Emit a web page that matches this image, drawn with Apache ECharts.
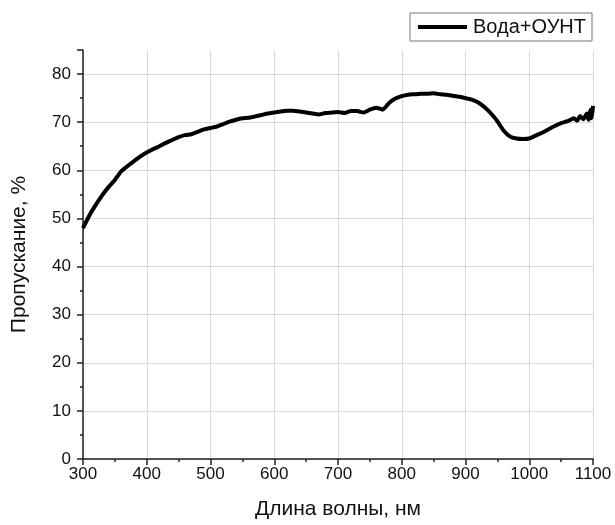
<!DOCTYPE html>
<html><head><meta charset="utf-8">
<script src="https://cdn.jsdelivr.net/npm/echarts@6/dist/echarts.min.js"></script>
<style>html,body{margin:0;padding:0;background:#fff}#c{width:615px;height:525px}</style>
</head><body><div id="c"></div>
<script>
const seriesName = 'Вода+ОУНТ';
const xTitle = 'Длина волны, нм';
const yTitle = 'Пропускание, %';
const wavelength = [300,310,320,330,340,350,360,370,380,390,400,410,420,430,440,450,460,470,480,490,500,510,520,530,540,550,560,570,580,590,600,610,620,630,640,650,660,670,680,690,700,710,720,730,740,750,760,770,775,780,790,800,810,820,830,840,850,860,870,880,890,900,910,920,930,940,950,960,970,980,990,1000,1010,1020,1030,1040,1050,1060,1070,1075,1080,1085,1090,1093,1096,1098,1100];
const transmission = [48.0,50.6,52.8,54.8,56.5,58.0,59.8,60.9,61.9,62.9,63.7,64.4,65.0,65.7,66.3,66.9,67.3,67.5,68.0,68.5,68.8,69.1,69.6,70.1,70.5,70.8,70.9,71.2,71.5,71.8,72.0,72.2,72.4,72.4,72.2,72.0,71.8,71.6,71.9,72.0,72.1,71.9,72.3,72.3,72.0,72.6,73.0,72.6,73.2,74.0,74.9,75.4,75.7,75.8,75.9,75.9,76.0,75.8,75.7,75.5,75.3,75.0,74.7,74.1,73.1,71.8,70.2,68.2,67.0,66.6,66.5,66.6,67.2,67.8,68.5,69.2,69.8,70.2,70.8,70.3,71.3,70.6,71.8,70.5,72.6,70.8,73.4];
const data = wavelength.map((w,i)=>[w, transmission[i]]);
const font = 'Liberation Sans, Arial, sans-serif';
const chart = echarts.init(document.getElementById('c'), null, {renderer:'canvas'});
chart.setOption({
  animation:false,
  backgroundColor:'#fff',
  grid:{left:83,right:22,top:50,bottom:63,containLabel:false},
  legend:{
    right:23, top:13, padding:[4,6,4,8],
    borderColor:'#777', borderWidth:1,
    icon:'rect', itemWidth:49, itemHeight:4, itemGap:0,
    textStyle:{fontFamily:font,fontSize:20,color:'#111',padding:[0,0,0,1]},
    data:[seriesName]
  },
  xAxis:{
    type:'value', min:300, max:1100, interval:100,
    name:xTitle, nameLocation:'middle', nameGap:40,
    nameTextStyle:{fontFamily:font,fontSize:21,color:'#111'},
    axisLine:{show:true,onZero:false,lineStyle:{color:'#222',width:1.5}},
    axisTick:{show:true,inside:false,length:6,lineStyle:{color:'#222',width:1.5}},
    minorTick:{show:true,splitNumber:2,length:3,lineStyle:{color:'#222',width:1.5}},
    axisLabel:{fontFamily:font,fontSize:17,color:'#111',margin:7,formatter:v=>String(v)},
    splitLine:{show:true,lineStyle:{color:'#d9d9d9',width:1}}
  },
  yAxis:{
    type:'value', min:0, max:85, interval:10,
    name:yTitle, nameLocation:'middle', nameGap:53,
    nameTextStyle:{fontFamily:font,fontSize:21,color:'#111'},
    axisLine:{show:true,onZero:false,lineStyle:{color:'#222',width:1.5}},
    axisTick:{show:true,inside:false,length:6,lineStyle:{color:'#222',width:1.5}},
    minorTick:{show:true,splitNumber:2,length:3,lineStyle:{color:'#222',width:1.5}},
    axisLabel:{fontFamily:font,fontSize:17,color:'#111',margin:12,showMaxLabel:false,
      formatter:v=> (v%10===0? String(v):'')},
    splitLine:{show:true,showMaxLine:false,lineStyle:{color:'#d9d9d9',width:1}}
  },
  series:[{
    name:seriesName, type:'line', data:data, showSymbol:false, symbol:'none',
    smooth:0.2, lineStyle:{color:'#000',width:4}, itemStyle:{color:'#000'}
  }]
});
</script></body></html>
